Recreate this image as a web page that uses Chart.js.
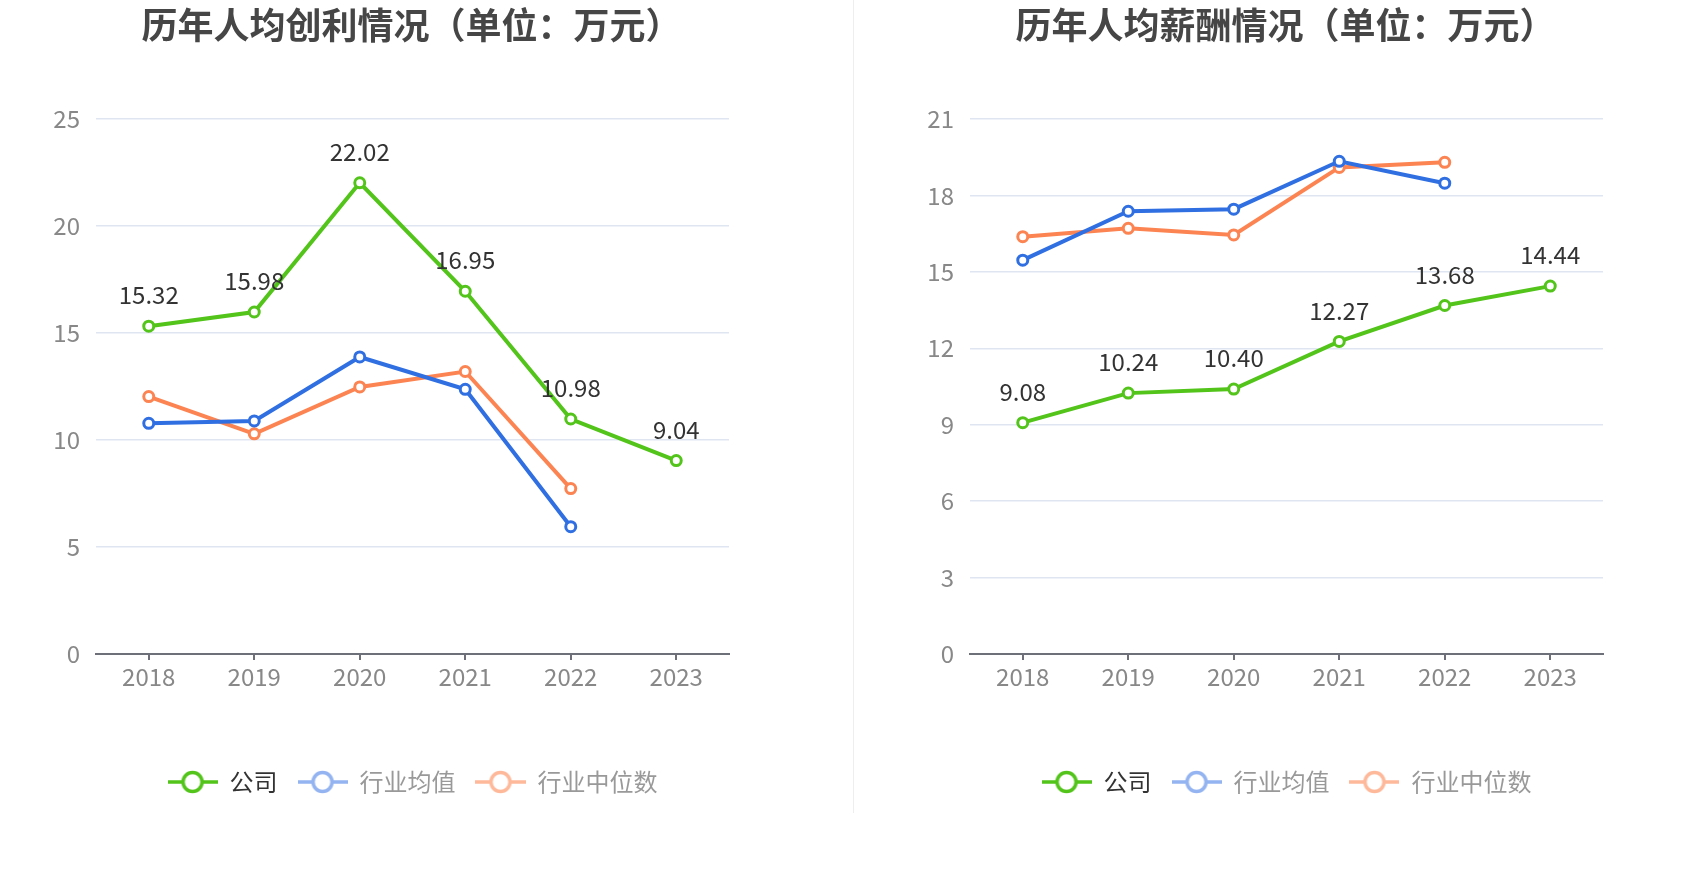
<!DOCTYPE html>
<html>
<head>
<meta charset="utf-8">
<script src="https://cdn.jsdelivr.net/npm/chart.js@4.4.1/dist/chart.umd.min.js"></script>
<style>
  body { margin: 0; background: #fff; }
  #left { position: absolute; left: 0; top: 0; }
  #right { position: absolute; left: 853px; top: 0; }
  #divider { position: absolute; left: 853px; top: 0; width: 1px; height: 813px; background: #eeeeee; }
</style>
</head>
<body>
<canvas id="left" width="853" height="874"></canvas>
<div id="divider"></div>
<canvas id="right" width="847" height="874"></canvas>
<script>
// data
var years = ['2018', '2019', '2020', '2021', '2022', '2023'];
var seriesNames = ['公司', '行业均值', '行业中位数'];

var profitCompany = [15.32, 15.98, 22.02, 16.95, 10.98, 9.04];
var profitAvg = [10.78, 10.89, 13.88, 12.37, 5.95, null];
var profitMedian = [12.03, 10.29, 12.48, 13.20, 7.73, null];

var salaryCompany = [9.08, 10.24, 10.40, 12.27, 13.68, 14.44];
var salaryAvg = [15.46, 17.38, 17.46, 19.34, 18.48, null];
var salaryMedian = [16.38, 16.71, 16.45, 19.10, 19.30, null];

var FONT = '"Noto Sans CJK SC", "Noto Sans", sans-serif';
var GREEN = '#52c41a', BLUE = '#2f6fe2', ORANGE = '#fc8452';
var legendColors = [GREEN, '#93b3f1', '#feb99b'];
var legendText = ['#333333', '#999999', '#999999'];

// legend icon: line with hollow circle
function makeIcon(color) {
    var c = document.createElement('canvas');
    c.width = 50; c.height = 26;
    var g = c.getContext('2d');
    g.strokeStyle = color;
    g.lineWidth = 3.5;
    g.beginPath(); g.moveTo(0, 13); g.lineTo(50, 13); g.stroke();
    g.beginPath(); g.arc(25, 13, 9.5, 0, Math.PI * 2);
    g.fillStyle = '#fff'; g.fill(); g.stroke();
    return c;
}
var icons = legendColors.map(makeIcon);

// value labels above the company line + chart title
var valueLabels = {
    id: 'valueLabels',
    afterDatasetsDraw: function (chart) {
        var ctx = chart.ctx;
        var meta = chart.getDatasetMeta(0);
        var data = chart.data.datasets[0].data;
        ctx.save();
        ctx.font = '24px ' + FONT;
        ctx.fillStyle = '#333333';
        ctx.textAlign = 'center';
        ctx.textBaseline = 'middle';
        meta.data.forEach(function (pt, i) {
            if (data[i] == null) return;
            ctx.fillText(data[i].toFixed(2), pt.x, pt.y - 31);
        });
        // title
        var area = chart.chartArea;
        ctx.font = 'bold 36px ' + FONT;
        ctx.fillStyle = '#464646';
        ctx.fillText(chart.options.titleText, (area.left + area.right) / 2 - 1, 25);
        ctx.restore();
    }
};

function ds(label, data, color) {
    return {
        label: label,
        data: data,
        borderColor: color,
        backgroundColor: '#ffffff',
        borderWidth: 4,
        pointRadius: 5,
        pointBorderWidth: 3,
        pointBackgroundColor: '#ffffff',
        pointBorderColor: color,
        tension: 0,
        spanGaps: false
    };
}

function makeChart(id, title, a, b, c, max, step, pad, yWidth) {
    var ctx = document.getElementById(id).getContext('2d');
    return new Chart(ctx, {
        type: 'line',
        data: {
            labels: years,
            datasets: [ds(seriesNames[0], a, GREEN), ds(seriesNames[1], b, BLUE), ds(seriesNames[2], c, ORANGE)]
        },
        plugins: [valueLabels],
        options: {
            titleText: title,
            responsive: false,
            animation: false,
            layout: { padding: pad },
            plugins: {
                tooltip: { enabled: false },
                title: { display: false },
                legend: {
                    position: 'bottom',
                    fullSize: false,
                    labels: {
                        usePointStyle: true,
                        pointStyleWidth: 50,
                        padding: 20,
                        font: { family: FONT, size: 24 },
                        generateLabels: function (chart) {
                            return chart.data.datasets.map(function (d, i) {
                                return {
                                    text: d.label,
                                    pointStyle: icons[i],
                                    fontColor: legendText[i],
                                    strokeStyle: legendColors[i],
                                    fillStyle: '#fff',
                                    lineWidth: 0,
                                    hidden: false,
                                    datasetIndex: i
                                };
                            });
                        }
                    },
                    onClick: function () {}
                }
            },
            scales: {
                x: {
                    offset: true,
                    afterFit: function (s) { s.height = 96; },
                    grid: { display: true, offset: false, drawOnChartArea: false, drawTicks: true, tickLength: 6, color: '#6e7079', lineWidth: 2 },
                    border: { display: true, color: '#6e7079', width: 2 },
                    ticks: { color: '#888888', padding: 2, font: { family: FONT, size: 24 } }
                },
                y: {
                    min: 0,
                    max: max,
                    afterFit: function (s) { s.width = yWidth; },
                    ticks: { stepSize: step, color: '#888888', padding: 16, font: { family: FONT, size: 24 } },
                    grid: { color: '#e0e6f1', lineWidth: 1.5, drawTicks: false },
                    border: { display: false }
                }
            }
        }
    });
}

makeChart('left', '历年人均创利情况（单位：万元）', profitCompany, profitAvg, profitMedian, 25, 5,
    { left: 0, right: 124, top: 119, bottom: 70 }, 96);
makeChart('right', '历年人均薪酬情况（单位：万元）', salaryCompany, salaryAvg, salaryMedian, 21, 3,
    { left: 0, right: 97, top: 119, bottom: 70 }, 117);
</script>
</body>
</html>
